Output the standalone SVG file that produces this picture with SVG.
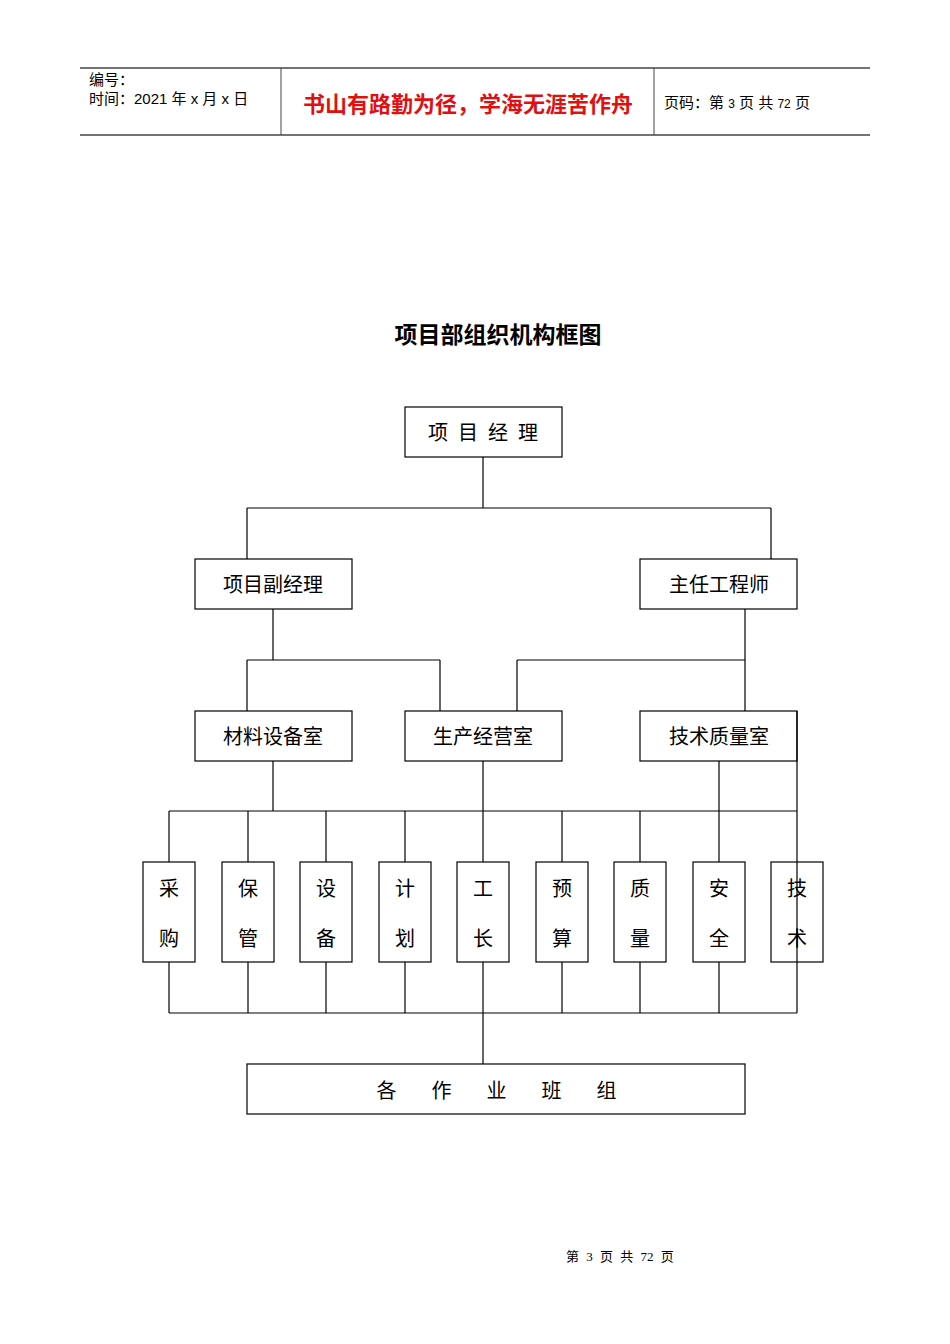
<svg xmlns="http://www.w3.org/2000/svg" width="950" height="1344" viewBox="0 0 950 1344">
<style>
.b{fill:#fff;stroke:#000;stroke-width:1.2}
.l{stroke:#000;stroke-width:1.2;fill:none}
.t{font-family:"Noto Sans CJK SC","Liberation Serif",serif;font-size:20px;fill:#000;text-anchor:middle}
.h{font-family:"Liberation Sans","Noto Sans CJK SC",sans-serif;font-size:15px;fill:#000}
</style>
<rect width="950" height="1344" fill="#fff"/>
<g id="header">
<line x1="80" y1="68" x2="870" y2="68" stroke="#444" stroke-width="1.5"/>
<line x1="80" y1="135" x2="870" y2="135" stroke="#444" stroke-width="1.5"/>
<line x1="281" y1="68" x2="281" y2="135" stroke="#444"/>
<line x1="654" y1="68" x2="654" y2="135" stroke="#444"/>
<text class="h" x="89" y="85">编号：</text>
<text class="h" x="89" y="104">时间：2021 年 x 月 x 日</text>
<text x="468" y="112" font-family="Noto Sans CJK SC,sans-serif" font-size="22" font-weight="bold" fill="#e01010" text-anchor="middle">书山有路勤为径，学海无涯苦作舟</text>
<text class="h" x="664" y="108">页码：第 <tspan font-size="12">3</tspan> 页  共 <tspan font-size="12">72</tspan> 页</text>
</g>
<text x="498" y="343" font-family="Noto Sans CJK SC,sans-serif" font-size="23" font-weight="bold" text-anchor="middle">项目部组织机构框图</text>
<g id="connectors">
<path class="l" d="M483 457V508M247 508H771M247 508V559M771 508V559"/>
<path class="l" d="M273 609V660M247 660H440M247 660V711M440 660V711"/>
<path class="l" d="M745 609V660M517 660H745M517 660V711M745 660V711"/>
<path class="l" d="M273 761V811M483 761V811M719 761V811M797 711V1013M169 811H797M169 1013H797M483 1013V1064"/>
<path class="l" d="M169 811V862M248 811V862M326 811V862M405 811V862M483 811V862M562 811V862M640 811V862M719 811V862"/>
<path class="l" d="M169 962V1013M248 962V1013M326 962V1013M405 962V1013M483 962V1013M562 962V1013M640 962V1013M719 962V1013"/>
</g>
<g id="n1"><rect class="b" x="405" y="407" width="157" height="50"/><text class="t" x="488" y="440" letter-spacing="10">项目经理</text></g>
<g id="n2"><rect class="b" x="195" y="559" width="157" height="50"/><text class="t" x="273" y="592">项目副经理</text></g>
<g id="n3"><rect class="b" x="640" y="559" width="157" height="50"/><text class="t" x="719" y="592">主任工程师</text></g>
<g id="n4"><rect class="b" x="195" y="711" width="157" height="50"/><text class="t" x="273" y="744">材料设备室</text></g>
<g id="n5"><rect class="b" x="405" y="711" width="157" height="50"/><text class="t" x="483" y="744">生产经营室</text></g>
<g id="n6"><rect class="b" x="640" y="711" width="157" height="50" style="fill:none"/><text class="t" x="719" y="744">技术质量室</text></g>
<g id="s1"><rect class="b" x="143" y="862" width="52" height="100"/><text class="t" x="169" y="896">采</text><text class="t" x="169" y="946">购</text></g>
<g id="s2"><rect class="b" x="222" y="862" width="52" height="100"/><text class="t" x="248" y="896">保</text><text class="t" x="248" y="946">管</text></g>
<g id="s3"><rect class="b" x="300" y="862" width="52" height="100"/><text class="t" x="326" y="896">设</text><text class="t" x="326" y="946">备</text></g>
<g id="s4"><rect class="b" x="379" y="862" width="52" height="100"/><text class="t" x="405" y="896">计</text><text class="t" x="405" y="946">划</text></g>
<g id="s5"><rect class="b" x="457" y="862" width="52" height="100"/><text class="t" x="483" y="896">工</text><text class="t" x="483" y="946">长</text></g>
<g id="s6"><rect class="b" x="536" y="862" width="52" height="100"/><text class="t" x="562" y="896">预</text><text class="t" x="562" y="946">算</text></g>
<g id="s7"><rect class="b" x="614" y="862" width="52" height="100"/><text class="t" x="640" y="896">质</text><text class="t" x="640" y="946">量</text></g>
<g id="s8"><rect class="b" x="693" y="862" width="52" height="100"/><text class="t" x="719" y="896">安</text><text class="t" x="719" y="946">全</text></g>
<g id="s9"><rect class="b" x="771" y="862" width="52" height="100" style="fill:none"/><text class="t" x="797" y="896">技</text><text class="t" x="797" y="946">术</text></g>
<g id="n7"><rect class="b" x="247" y="1064" width="498" height="50"/><text class="t" x="514" y="1098" letter-spacing="35">各作业班组</text></g>
<text x="620" y="1261" font-family="Liberation Serif,Noto Sans CJK SC,serif" font-size="13" text-anchor="middle" word-spacing="4">第 3 页 共 72 页</text>
</svg>
